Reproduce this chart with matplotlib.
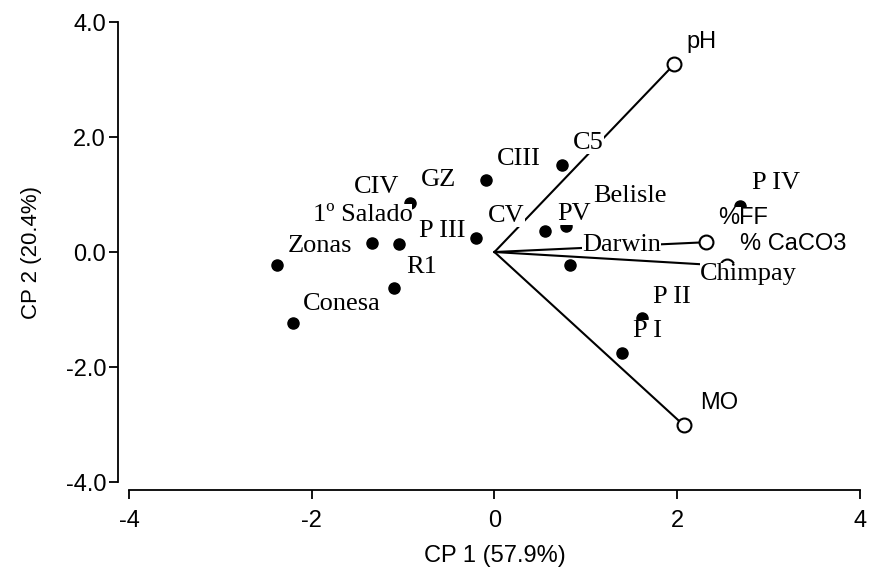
import matplotlib
matplotlib.use("Agg")
import matplotlib.pyplot as plt

plt.rcParams['axes.unicode_minus'] = False

# site scores (PCA)
site_x = [-2.385, -2.21, -1.335, -1.05, -1.094, -0.92, -0.197, -0.088,
          0.744, 0.558, 0.788, 0.83, 1.62, 1.40, 2.69]
site_y = [-0.226, -1.235, 0.157, 0.14, -0.626, 0.86, 0.243, 1.25,
          1.51, 0.365, 0.45, -0.226, -1.15, -1.76, 0.80]

# site labels and where they were written
lab_names = ['Zonas', 'Conesa', '1º Salado', 'R1', 'CIV', 'GZ', 'P III', 'CV',
             'CIII', 'C5', 'PV', 'Belisle', 'Darwin', 'Chimpay', 'P II', 'P I', 'P IV']
lab_x = [-2.26, -2.10, -1.99, -0.97, -1.54, -0.80, -0.83, -0.07,
         0.03, 0.86, 0.69, 1.08, 0.96, 2.25, 1.74, 1.52, 2.82]
lab_y = [0.10, -0.90, 0.65, -0.26, 1.13, 1.25, 0.37, 0.63,
         1.62, 1.90, 0.66, 0.97, 0.12, -0.38, -0.78, -1.37, 1.20]

# variable loadings
var_names = ['pH', '%FF', '% CaCO3', 'MO']
var_x = [1.97, 2.31, 2.55, 2.07]
var_y = [3.27, 0.17, -0.24, -3.01]
var_lx = [2.10, 2.45, 2.69, 2.25]
var_ly = [3.65, 0.59, 0.14, -2.63]

fig = plt.figure(figsize=(8.69, 5.72), dpi=100)
ax = fig.add_axes([0.1484, 0.1573, 0.8412, 0.8042])

for vx, vy in zip(var_x, var_y):
    ax.plot([0, vx], [0, vy], color='black', lw=1.5, zorder=2)
ax.plot(var_x, var_y, 'o', ms=10, mfc='white', mec='black', mew=1.5, ls='none', zorder=3)
ax.plot(site_x, site_y, 'o', ms=8, color='black', ls='none', zorder=3)

for n, x, y in zip(lab_names, lab_x, lab_y):
    ax.text(x, y, n, family='Liberation Serif', fontsize=19, ha='left', va='center',
            zorder=5, bbox=dict(fc='white', ec='none', pad=0))
for n, x, y in zip(var_names, var_lx, var_ly):
    ax.text(x, y, n, family='Liberation Sans', fontsize=17, ha='left', va='center',
            zorder=5, bbox=dict(fc='white', ec='none', pad=0))

ax.set_xlim(-4, 4)
ax.set_ylim(-4, 4)
ax.set_xticks([-4, -2, 0, 2, 4])
ax.set_yticks([-4, -2, 0, 2, 4])
ax.set_yticklabels(['-4.0', '-2.0', '0.0', '2.0', '4.0'])
for s in ['top', 'right']:
    ax.spines[s].set_visible(False)
ax.spines['left'].set_position(('outward', 8))
ax.spines['bottom'].set_position(('outward', 6))
for s in ['left', 'bottom']:
    ax.spines[s].set_linewidth(1.3)
ax.tick_params(direction='out', length=6.5, width=1.3, labelsize=17, pad=2)
ax.tick_params(axis='x', pad=8)
for t in ax.get_xticklabels() + ax.get_yticklabels():
    t.set_family('Liberation Sans')
ax.set_xlabel('CP 1 (57.9%)', family='Liberation Sans', fontsize=17, labelpad=9)
ax.set_ylabel('CP 2 (20.4%)', family='Liberation Sans', fontsize=16, labelpad=17)
ax.set_facecolor('none')

fig.savefig('out.png', dpi=100)
